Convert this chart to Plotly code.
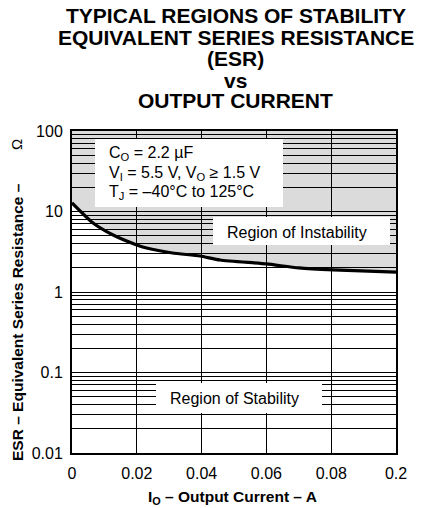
import plotly.graph_objects as go

# Data
io_current = [0.0, 0.0065, 0.0127, 0.020, 0.023, 0.031, 0.0395, 0.0457, 0.060, 0.070, 0.0806, 0.100]
esr_boundary = [12.8, 7.2, 5.1, 3.84, 3.52, 3.05, 2.8, 2.5, 2.23, 1.99, 1.88, 1.77]
esr_top = 100

x_tickvals = [0, 0.02, 0.04, 0.06, 0.08, 0.1]
x_ticktext = ["0", "0.02", "0.04", "0.06", "0.08", "0.2"]
y_tickvals = [0.01, 0.1, 1, 10, 100]
y_ticktext = ["0.01", "0.1", "1", "10", "100"]
y_minor = [m * 10.0 ** d for d in range(-2, 2) for m in range(2, 10)]

title_lines = ["TYPICAL REGIONS OF STABILITY", "EQUIVALENT SERIES RESISTANCE",
               "(ESR)", "vs", "OUTPUT CURRENT"]
cond_lines = ["C<sub>O</sub> = 2.2 µF",
              "V<sub>I</sub> = 5.5 V, V<sub>O</sub> ≥ 1.5 V",
              "T<sub>J</sub> = –40°C to 125°C"]

FONT = "Arial, Liberation Sans, sans-serif"

fig = go.Figure()
fig.add_trace(go.Scatter(x=io_current, y=[esr_top] * len(io_current), mode="lines",
                         line=dict(width=0, color="rgba(0,0,0,0)"), showlegend=False,
                         hoverinfo="skip"))
fig.add_trace(go.Scatter(x=io_current, y=esr_boundary, mode="lines", fill="tonexty",
                         fillcolor="rgba(0,0,0,0.14)",
                         line=dict(color="black", width=3.2, shape="spline", smoothing=0.6),
                         showlegend=False))

fig.update_layout(
    width=415, height=500,
    margin=dict(l=64, r=27, t=123, b=55),
    paper_bgcolor="white", plot_bgcolor="white",
    font=dict(family=FONT, size=16, color="black"),
    xaxis=dict(range=[0, 0.1], tickmode="array", tickvals=x_tickvals, ticktext=x_ticktext,
               showgrid=True, gridcolor="black", gridwidth=1, zeroline=False,
               showline=True, linecolor="black", linewidth=2, mirror=True,
               ticks="", ticklabelstandoff=5, tickfont=dict(size=16)),
    yaxis=dict(type="log", range=[-2, 2], tickmode="array", tickvals=y_tickvals, ticktext=y_ticktext,
               showgrid=True, gridcolor="black", gridwidth=1, zeroline=False,
               showline=True, linecolor="black", linewidth=2, mirror=True,
               ticks="", ticklabelstandoff=4, tickfont=dict(size=16),
               minor=dict(tickmode="array", tickvals=y_minor, showgrid=True,
                          gridcolor="black", gridwidth=1, ticks="")),
)

# reference pixel -> paper coords (plot area spans x 72..396, y 131..453 in reference pixels)
def px2x(p):
    return (p - 72) / 324.0

def py2y(p):
    return (453 - p) / 322.0

shapes = []
for (x0, y0, x1, y1) in [(95, 139, 283, 207), (213, 217, 390, 245), (156, 383, 322, 413)]:
    shapes.append(dict(type="rect", xref="paper", yref="paper",
                       x0=px2x(x0), x1=px2x(x1), y0=py2y(y1), y1=py2y(y0),
                       fillcolor="white", line=dict(width=0), layer="above"))
fig.update_layout(shapes=shapes)

ann = []
for t, yc in zip(title_lines, [15.5, 37.0, 58.5, 80.5, 100.5]):
    ann.append(dict(text="<b>" + t + "</b>", xref="paper", yref="paper",
                    x=px2x(235.5), y=py2y(yc), xanchor="center", yanchor="middle",
                    showarrow=False, font=dict(family=FONT, size=21, color="black")))
for t, yc in zip(cond_lines, [153, 173, 192]):
    ann.append(dict(text=t, xref="paper", yref="paper", x=px2x(107), y=py2y(yc),
                    xanchor="left", yanchor="middle", showarrow=False,
                    font=dict(family=FONT, size=16, color="black")))
ann.append(dict(text="Region of Instability", xref="paper", yref="paper",
                x=px2x(297), y=py2y(232), xanchor="center", yanchor="middle", showarrow=False,
                font=dict(family=FONT, size=16, color="black")))
ann.append(dict(text="Region of Stability", xref="paper", yref="paper",
                x=px2x(234), y=py2y(398), xanchor="center", yanchor="middle", showarrow=False,
                font=dict(family=FONT, size=16, color="black")))
ann.append(dict(text="<b>I<sub>O</sub> – Output Current – A</b>", xref="paper", yref="paper",
                x=px2x(232), y=py2y(497), xanchor="center", yanchor="middle", showarrow=False,
                font=dict(family=FONT, size=15.5, color="black")))
ann.append(dict(text="<b>ESR – Equivalent Series Resistance –</b>", xref="paper", yref="paper",
                x=px2x(17), y=py2y(322), xanchor="center", yanchor="middle", showarrow=False,
                textangle=-90, font=dict(family=FONT, size=15.5, color="black")))
ann.append(dict(text="Ω", xref="paper", yref="paper",
                x=px2x(16), y=py2y(145), xanchor="center", yanchor="middle", showarrow=False,
                textangle=-90, font=dict(family=FONT, size=15, color="black")))
fig.update_layout(annotations=ann)

fig.write_html("out.html")
